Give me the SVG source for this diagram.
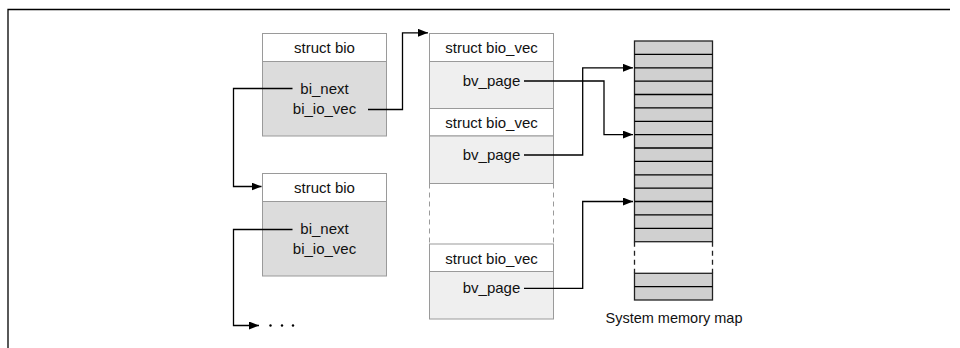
<svg xmlns="http://www.w3.org/2000/svg" width="960" height="348" viewBox="0 0 960 348">
<defs>
<marker id="ah" markerWidth="10" markerHeight="8" refX="10" refY="4" orient="auto" markerUnits="userSpaceOnUse">
<path d="M0,0 L10,4 L0,8 Z" fill="#000"/>
</marker>
</defs>
<style>
text{font-family:"Liberation Sans",Arial,sans-serif;font-size:15px;fill:#111;text-anchor:middle}
.hd{fill:#fff;stroke:#9a9a9a;stroke-width:1}
.bio{fill:#dcdcdc;stroke:#9a9a9a;stroke-width:1}
.vec{fill:#efefef;stroke:#9a9a9a;stroke-width:1}
.dash{fill:none;stroke:#9a9a9a;stroke-width:1;stroke-dasharray:5,4}
.mem{fill:#d0d0d0;stroke:#222;stroke-width:1.3}
.memd{fill:none;stroke:#222;stroke-width:1.3;stroke-dasharray:5,4}
.c{fill:none;stroke:#000;stroke-width:1.3}
</style>
<rect width="960" height="348" fill="#fff"/>
<path d="M8,348 V9.5 H950" fill="none" stroke="#000" stroke-width="1.3"/>

<g id="bio1">
<rect class="hd" x="262.5" y="33.5" width="124" height="28"/>
<rect class="bio" x="262.5" y="61.5" width="124" height="74.5"/>
<text x="324.5" y="53">struct bio</text>
<text x="324.5" y="94">bi_next</text>
<text x="324.5" y="114">bi_io_vec</text>
</g>

<g id="bio2">
<rect class="hd" x="262.5" y="173.5" width="124" height="28"/>
<rect class="bio" x="262.5" y="201.5" width="124" height="74.5"/>
<text x="324.5" y="193">struct bio</text>
<text x="324.5" y="234">bi_next</text>
<text x="324.5" y="254">bi_io_vec</text>
</g>

<g id="biovec">
<rect class="hd" x="429.5" y="33.5" width="124" height="28"/>
<rect class="vec" x="429.5" y="61.5" width="124" height="47"/>
<rect class="hd" x="429.5" y="108.5" width="124" height="27.5"/>
<rect class="vec" x="429.5" y="136" width="124" height="47.5"/>
<path class="dash" d="M429.5,183.5 V244 M553.5,183.5 V244"/>
<rect class="hd" x="429.5" y="244" width="124" height="27.5"/>
<rect class="vec" x="429.5" y="271.5" width="124" height="47.5"/>
<text x="491.5" y="53">struct bio_vec</text>
<text x="491.5" y="86">bv_page</text>
<text x="491.5" y="128">struct bio_vec</text>
<text x="491.5" y="160">bv_page</text>
<text x="491.5" y="263.5">struct bio_vec</text>
<text x="491.5" y="293">bv_page</text>
</g>

<g id="memmap">
<rect class="mem" x="634.5" y="41" width="78" height="200.7"/>
<path class="c" stroke="#222" d="M634.5,54.4H712.5M634.5,67.8H712.5M634.5,81.1H712.5M634.5,94.5H712.5M634.5,107.9H712.5M634.5,121.3H712.5M634.5,134.6H712.5M634.5,148H712.5M634.5,161.4H712.5M634.5,174.8H712.5M634.5,188.2H712.5M634.5,201.5H712.5M634.5,214.9H712.5M634.5,228.3H712.5"/>
<path class="memd" d="M634.5,241.7V273.3M712.5,241.7V273.3"/>
<rect class="mem" x="634.5" y="273.3" width="78" height="26.7"/>
<path class="c" stroke="#222" d="M634.5,286.7H712.5"/>
<text x="674" y="323" style="font-size:14.5px">System memory map</text>
</g>

<g id="connectors">
<path class="c" d="M292.5,88.5 H233.5 V186.5 H261.5" marker-end="url(#ah)"/>
<path class="c" d="M368,109.5 H402.5 V32.8 H428" marker-end="url(#ah)"/>
<path class="c" d="M292.5,229.5 H233.5 V325.5 H259" marker-end="url(#ah)"/>
<path class="c" d="M524,81 H604 V134.6 H633" marker-end="url(#ah)"/>
<path class="c" d="M524,155 H582.7 V67.8 H633" marker-end="url(#ah)"/>
<path class="c" d="M524,288.3 H582.7 V201.5 H633" marker-end="url(#ah)"/>
</g>
<g id="dots" fill="#000">
<circle cx="270.5" cy="325.5" r="1.2"/>
<circle cx="282" cy="325.5" r="1.2"/>
<circle cx="293" cy="325.5" r="1.2"/>
</g>
</svg>
